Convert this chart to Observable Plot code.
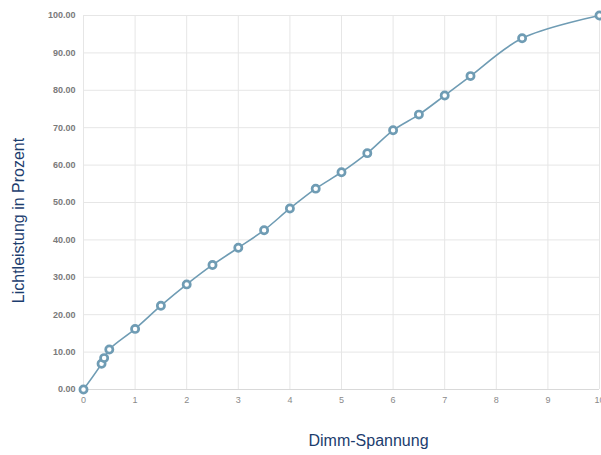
<!DOCTYPE html>
<html><head><meta charset="utf-8">
<script src="https://cdn.jsdelivr.net/npm/d3@7"></script>
<script src="https://cdn.jsdelivr.net/npm/@observablehq/plot@0.6"></script>
<style>body{margin:0;background:#fff;font-family:"Liberation Sans",Arial,sans-serif}</style>
</head><body><div id="chart"></div>
<script>
const voltage = [0, 0.35, 0.4, 0.5, 1, 1.5, 2, 2.5, 3, 3.5, 4, 4.5, 5, 5.5, 6, 6.5, 7, 7.5, 8.5, 10];
const light = [0, 6.9, 8.4, 10.7, 16.2, 22.4, 28.1, 33.3, 37.9, 42.6, 48.4, 53.7, 58.1, 63.2, 69.3, 73.5, 78.6, 83.8, 93.9, 100];
const xTicks = [0, 1, 2, 3, 4, 5, 6, 7, 8, 9, 10];
const yTicks = [0, 10, 20, 30, 40, 50, 60, 70, 80, 90, 100];
const xLabel = "Dimm-Spannung";
const yLabel = "Lichtleistung in Prozent";

const data = voltage.map((v, i) => ({v, l: light[i]}));
const lineColor = "#6f9cb4";
const labelColor = "#1c3d6e";

const chart = Plot.plot({
  width: 601,
  height: 455,
  marginLeft: 83,
  marginRight: 2,
  marginTop: 15,
  marginBottom: 66,
  style: {fontFamily: "'Liberation Sans', Arial, sans-serif", background: "#fff", overflow: "visible"},
  x: {domain: [0, 10]},
  y: {domain: [0, 100]},
  marks: [
    Plot.gridX(xTicks, {stroke: "#e6e6e6", strokeOpacity: 1}),
    Plot.gridY(yTicks, {stroke: "#e6e6e6", strokeOpacity: 1}),
    Plot.ruleY([0], {stroke: "#d9d9d9"}),
    Plot.axisY(yTicks, {tickSize: 0, tickPadding: 8, tickFormat: d => d.toFixed(2), fontSize: 9, fontWeight: "bold", fill: "#7a7a7a", label: null}),
    Plot.axisX(xTicks, {tickSize: 0, tickPadding: 7, fontSize: 9, fill: "#8a8a8a", label: null}),
    Plot.line(data, {x: "v", y: "l", curve: "catmull-rom", stroke: lineColor, strokeWidth: 1.6}),
    Plot.dot(data, {x: "v", y: "l", r: 3.6, fill: "white", stroke: lineColor, strokeWidth: 2.7}),
    Plot.text([xLabel], {frameAnchor: "bottom", dx: 27, dy: 56, fontSize: 16, fill: labelColor}),
    Plot.text([yLabel], {frameAnchor: "left", textAnchor: "middle", dx: -65, dy: 18, rotate: -90, fontSize: 16, fill: labelColor})
  ]
});
document.getElementById("chart").appendChild(chart);
</script>
</body></html>
